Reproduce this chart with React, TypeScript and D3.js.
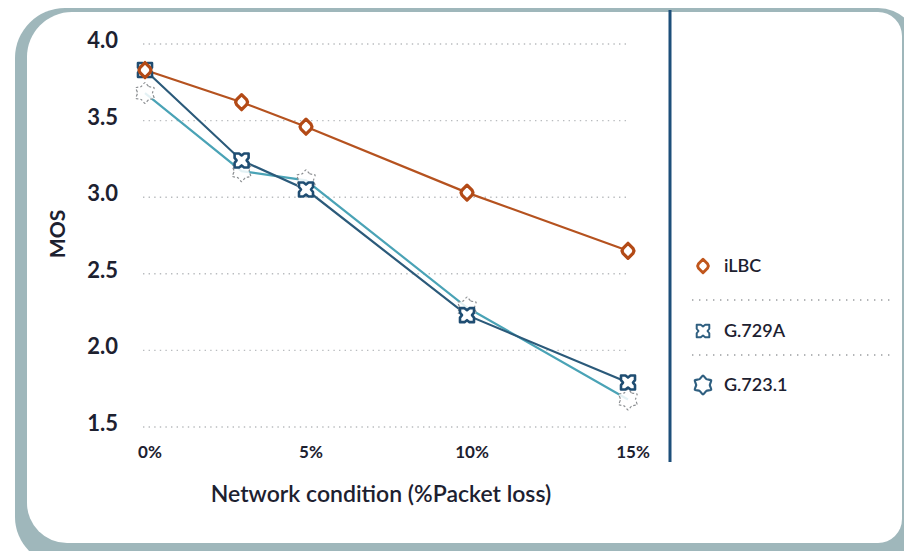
import React from "react";
import * as d3 from "d3";

const lossPct = [0, 3, 5, 10, 15];
const xTicks = [0, 5, 10, 15];
const yTicks = [1.5, 2.0, 2.5, 3.0, 3.5, 4.0];
const seriesNames = ["iLBC", "G.729A", "G.723.1"];
const iLBC = [3.83, 3.62, 3.46, 3.03, 2.65];
const g729a = [3.83, 3.24, 3.05, 2.23, 1.79];
const g7231 = [3.68, 3.17, 3.11, 2.28, 1.68];

const W = 904;
const H = 551;
const FONT = "Lato, 'Open Sans', sans-serif";

function roundedPath(l: number, t: number, r: number, b: number, tl: number, tr: number, br: number, bl: number) {
  return `M${l + tl},${t} L${r - tr},${t} A${tr},${tr} 0 0 1 ${r},${t + tr} L${r},${b - br} A${br},${br} 0 0 1 ${r - br},${b} L${l + bl},${b} A${bl},${bl} 0 0 1 ${l},${b - bl} L${l},${t + tl} A${tl},${tl} 0 0 1 ${l + tl},${t} Z`;
}

function diamondPath() {
  return "M0,-7.5 L5,-2.5 L6,0 L5,2.5 L0,7.5 L-5,2.5 L-6,0 L-5,-2.5 Z";
}
function crossSquarePath() {
  const s = 7;
  const n = 2;
  const m = 2.5;
  return `M${-s},${-s} L${-m},${-s} L0,${-s + n} L${m},${-s} L${s},${-s} L${s},${-m} L${s - n},0 L${s},${m} L${s},${s} L${m},${s} L0,${s - n} L${-m},${s} L${-s},${s} L${-s},${m} L${-s + n},0 L${-s},${-m} Z`;
}
function starPath(ro: number, ri: number) {
  const pts: [number, number][] = [];
  for (let i = 0; i < 12; i++) {
    const a = (Math.PI / 6) * i - Math.PI / 2;
    const r = i % 2 === 0 ? ro : ri;
    pts.push([Math.cos(a) * r, Math.sin(a) * r]);
  }
  return d3.line().curve(d3.curveCardinalClosed.tension(0.4))(pts) as string;
}

export default function App() {
  const x = d3.scaleLinear().domain([0, 15]).range([145, 628]);
  const y = d3.scaleLinear().domain([1.5, 4.0]).range([427, 44]);
  const line = d3
    .line<number>()
    .x((_, i) => x(lossPct[i]))
    .y((d) => y(d));

  const series = [
    { name: seriesNames[2], vals: g7231, color: "#4aa3b6" },
    { name: seriesNames[1], vals: g729a, color: "#2b5a7a" },
    { name: seriesNames[0], vals: iLBC, color: "#b5521f" },
  ];

  const legendY = [266, 331, 385];
  const sepY = [300, 355];

  return (
    <svg
      width={W}
      height={H}
      style={{ position: "absolute", left: 0, top: 0, background: "#ffffff" }}
      fontFamily={FONT}
    >
      <path d={roundedPath(15, 8, 918, 565, 50, 40, 40, 48)} fill="#9fb7bb" />
      <path d={roundedPath(27, 12, 902, 543, 45, 24, 24, 40)} fill="#ffffff" />

      {yTicks.map((t) => (
        <g key={t}>
          <line
            x1={143}
            x2={630}
            y1={y(t)}
            y2={y(t)}
            stroke="#b9bcbf"
            strokeWidth={1.4}
            strokeDasharray="1.4,4.2"
          />
          <text x={118} y={y(t) + 4} textAnchor="end" fontSize={22} fontWeight={700} fill="#1d2130">
            {t.toFixed(1)}
          </text>
        </g>
      ))}

      {xTicks.map((t) => (
        <text key={t} x={x(t) + 5} y={458} textAnchor="middle" fontSize={17} fontWeight={700} fill="#1d2130">
          {t + "%"}
        </text>
      ))}

      <text
        transform={`translate(65,234) rotate(-90)`}
        textAnchor="middle"
        fontSize={21}
        fontWeight={700}
        fill="#1d2130"
      >
        MOS
      </text>
      <text x={381} y={502} textAnchor="middle" fontSize={23} fontWeight={600} fill="#1d2130">
        Network condition (%Packet loss)
      </text>

      {series.map((s) => (
        <path key={s.name} d={line(s.vals) as string} fill="none" stroke={s.color} strokeWidth={2.2} />
      ))}

      {g7231.map((v, i) => (
        <path
          key={"s" + i}
          d={starPath(10.5, 7.5)}
          transform={`translate(${x(lossPct[i])},${y(v)})`}
          fill="#ffffff"
          fillOpacity={0.85}
          stroke="#8a8d90"
          strokeWidth={1.2}
          strokeDasharray="2.5,2"
        />
      ))}
      {g729a.map((v, i) => (
        <path
          key={"c" + i}
          d={crossSquarePath()}
          transform={`translate(${x(lossPct[i])},${y(v)})`}
          fill="#ffffff"
          stroke="#1f4d72"
          strokeWidth={2.6}
          strokeLinejoin="round"
        />
      ))}
      {iLBC.map((v, i) => (
        <path
          key={"d" + i}
          d={diamondPath()}
          transform={`translate(${x(lossPct[i])},${y(v)})`}
          fill="#ffffff"
          stroke="#b34a16"
          strokeWidth={3.2}
          strokeLinejoin="round"
        />
      ))}

      <line x1={670} x2={670} y1={10} y2={462} stroke="#1d4f7a" strokeWidth={3} />

      {sepY.map((sy) => (
        <line
          key={sy}
          x1={692}
          x2={890}
          y1={sy}
          y2={sy}
          stroke="#9a9da0"
          strokeWidth={1.3}
          strokeDasharray="1.4,5.6"
        />
      ))}

      <path d={diamondPath()} transform={`translate(703,${legendY[0]}) scale(0.9)`} fill="#fff" stroke="#c0561c" strokeWidth={3.2} strokeLinejoin="round" />
      <path d={crossSquarePath()} transform={`translate(703,${legendY[1]}) scale(0.9)`} fill="#fff" stroke="#2f5f80" strokeWidth={2.2} strokeLinejoin="round" />
      <path d={starPath(9.5, 6.8)} transform={`translate(703,${legendY[2]})`} fill="#fff" stroke="#2f5f80" strokeWidth={2.2} strokeLinejoin="round" />

      {seriesNames.map((n, i) => (
        <text key={n} x={724} y={legendY[i] + 6} fontSize={18} fontWeight={600} fill="#1d2130">
          {n}
        </text>
      ))}
    </svg>
  );
}
